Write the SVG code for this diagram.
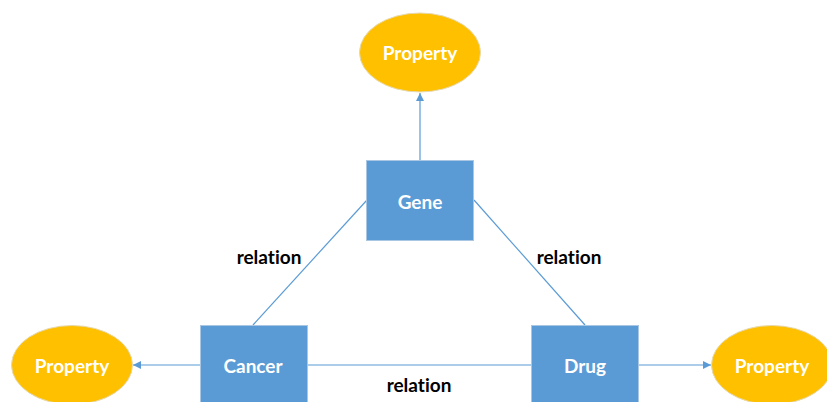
<svg xmlns="http://www.w3.org/2000/svg" width="827" height="402" viewBox="0 0 827 402">
<defs>
<style>
.ent{fill:#5B9BD5;stroke:#A9C6E3;stroke-width:1}
.prop{fill:#FFC000;stroke:#E6D9B0;stroke-width:1}
.nt{font-family:Lato,"Liberation Sans",sans-serif;font-weight:bold;font-size:19px;fill:#FFFFFF;text-anchor:middle;dominant-baseline:central;font-variant-ligatures:none}
.lbl{font-family:Lato,"Liberation Sans",sans-serif;font-weight:bold;font-size:19px;fill:#000000;text-anchor:middle;dominant-baseline:central;font-variant-ligatures:none}
.ln{stroke:#5B9BD5;stroke-width:1.2;fill:none}
</style>
<marker id="arr" viewBox="0 0 10 10" refX="10" refY="5" markerWidth="8" markerHeight="8" markerUnits="userSpaceOnUse" orient="auto">
<path d="M0,0 L10,5 L0,10 z" fill="#5B9BD5"/>
</marker>
</defs>
<rect width="827" height="402" fill="#FFFFFF"/>
<g id="connectors">
<line class="ln" x1="420" y1="160" x2="420" y2="93" marker-end="url(#arr)"/>
<line class="ln" x1="200" y1="365" x2="133" y2="365" marker-end="url(#arr)"/>
<line class="ln" x1="638" y1="365" x2="711" y2="365" marker-end="url(#arr)"/>
<line class="ln" x1="307" y1="365" x2="531" y2="365"/>
<line class="ln" x1="367" y1="200" x2="253" y2="325"/>
<line class="ln" x1="474" y1="200" x2="585" y2="325"/>
<text class="lbl" x="269" y="256">relation</text>
<text class="lbl" x="569" y="256">relation</text>
<text class="lbl" x="419" y="384">relation</text>
</g>
<g id="gene">
<rect class="ent" x="366.5" y="160.5" width="107" height="80"/>
<text class="nt" x="420" y="201">Gene</text>
</g>
<g id="cancer">
<rect class="ent" x="200.5" y="325.5" width="107" height="80"/>
<text class="nt" x="253" y="365">Cancer</text>
</g>
<g id="drug">
<rect class="ent" x="531.5" y="325.5" width="107" height="80"/>
<text class="nt" x="585" y="365">Drug</text>
</g>
<g id="prop-gene">
<ellipse class="prop" cx="420" cy="52.5" rx="60.5" ry="39.5"/>
<text class="nt" x="420" y="52">Property</text>
</g>
<g id="prop-cancer">
<ellipse class="prop" cx="72" cy="365" rx="60.5" ry="39.5"/>
<text class="nt" x="72" y="365">Property</text>
</g>
<g id="prop-drug">
<ellipse class="prop" cx="772" cy="365" rx="60.5" ry="39.5"/>
<text class="nt" x="772" y="365">Property</text>
</g>
</svg>
